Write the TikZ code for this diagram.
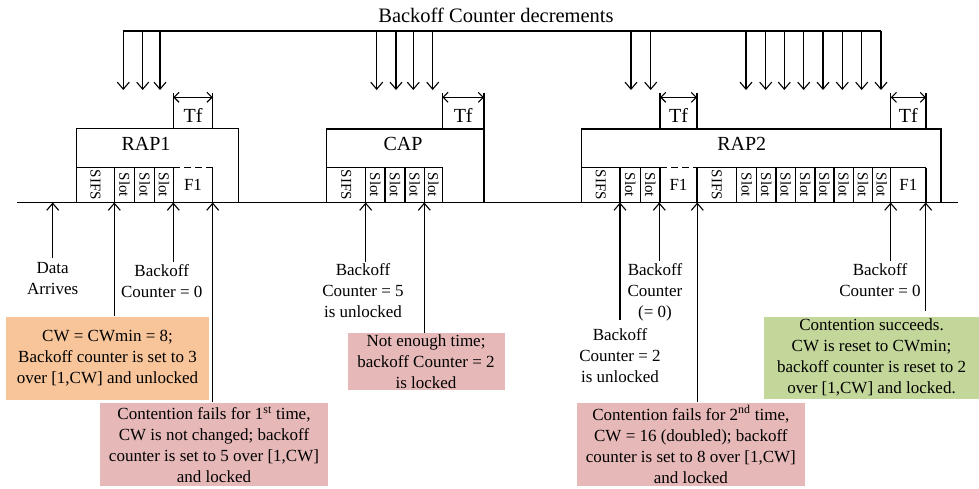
\documentclass[tikz,border=0pt]{standalone}
\usepackage{fontspec}
\setmainfont{Liberation Serif}
\usetikzlibrary{arrows.meta}
\definecolor{orangebox}{HTML}{F8C59B}
\definecolor{pinkbox}{HTML}{E6B9B8}
\definecolor{greenbox}{HTML}{C4D79B}
\begin{document}
\begin{tikzpicture}[x=1pt,y=-1pt,line width=1.1pt,
  arr/.style={-{Straight Barb[length=7pt,width=12pt,line width=1.1pt]}},
  dbl/.style={{Straight Barb[length=5pt,width=10pt,line width=1.1pt]}-{Straight Barb[length=5pt,width=10pt,line width=1.1pt]}},
  lbl/.style={font=\fontsize{17}{21}\selectfont,align=center,inner sep=0pt},
  notebox/.style={font=\fontsize{17}{21}\selectfont,align=center,inner sep=0pt},
  slotlbl/.style={font=\fontsize{15}{15}\selectfont,rotate=-90,inner sep=0pt},
  flbl/.style={font=\fontsize{17}{17}\selectfont,inner sep=0pt},
  tflbl/.style={font=\fontsize{20}{20}\selectfont,inner sep=0pt},
  seglbl/.style={font=\fontsize{20}{20}\selectfont,inner sep=0pt},
  dashedtop/.style={dash pattern=on 7pt off 4pt}]
\useasboundingbox (0,0) rectangle (979,488);

% title and decrement arrows
\node[font=\fontsize{20.5}{21}\selectfont,inner sep=0pt] (title) at (496,15) {Backoff Counter decrements};
\coordinate (topL) at (123.3,31);
\coordinate (topR) at (881,31);
\draw (topL) -- (topR);
\foreach \x in {123.3,142.7,160,376.7,396,413.3,432.7,631,650.7,746,765.7,784.3,803.7,823,842.3,861.7,881}
  \draw[arr] (\x,31) -- (\x,90);

% time line
\coordinate (tlL) at (17.3,202.5);
\coordinate (tlR) at (958,202.5);
\draw (tlL) -- (tlR);

% ---------- RAP1
\draw (76.7,202.5) -- (76.7,128.3) -- (238.3,128.3) -- (238.3,202.5);
\draw (76.7,167.3) -- (173.3,167.3);
\draw[dashedtop] (173.3,167.3) -- (212.7,167.3);
\foreach \x in {114.3,134.7,154.7,173.3,212.7} \draw (\x,167.3) -- (\x,202.5);
\draw (173.3,128.3) -- (173.3,93);
\draw (212.7,128.3) -- (212.7,93);
\draw[dbl] (173.3,97.3) -- (212.7,97.3);
\node[tflbl] (tf1) at (193,115) {Tf};
\node[seglbl] (rap1) at (146,143.5) {RAP1};
\node[slotlbl] (r1s) at (95.5,185) {SIFS};
\node[slotlbl] (r1a) at (124.5,185) {Slot};
\node[slotlbl] (r1b) at (144.7,185) {Slot};
\node[slotlbl] (r1c) at (164,185) {Slot};
\node[flbl] (r1f) at (193,185) {F1};

% ---------- CAP
\draw (326.7,202.5) -- (326.7,129) -- (484,129) -- (484,202.5);
\draw (326.7,167.3) -- (442.3,167.3);
\foreach \x in {365.7,385,405,424.3,442.3} \draw (\x,167.3) -- (\x,202.5);
\draw (442.3,129) -- (442.3,93);
\draw (484,129) -- (484,93);
\draw[dbl] (442.3,97.3) -- (484,97.3);
\node[tflbl] (tf2) at (463.2,115) {Tf};
\node[seglbl] (cap) at (403,143.5) {CAP};
\node[slotlbl] (cs) at (346.2,185) {SIFS};
\node[slotlbl] (ca) at (375.3,185) {Slot};
\node[slotlbl] (cb) at (395,185) {Slot};
\node[slotlbl] (cc) at (414.7,185) {Slot};
\node[slotlbl] (cd) at (433.3,185) {Slot};

% ---------- RAP2
\draw (581.7,202.5) -- (581.7,129) -- (941,129) -- (941,202.5);
\draw (581.7,167.7) -- (660,167.7);
\draw[dashedtop] (660,167.7) -- (697,167.7);
\draw (697,167.7) -- (926,167.7);
\foreach \x in {620,640.3,660,697,736.7,756.7,776,795.7,815,834,853.3,872.7,890.7,926} \draw (\x,167.7) -- (\x,202.5);
\draw (660,129) -- (660,93);
\draw (697,129) -- (697,93);
\draw[dbl] (660,97.3) -- (697,97.3);
\node[tflbl] (tf3) at (678.5,115) {Tf};
\draw (890.7,129) -- (890.7,93);
\draw (926,129) -- (926,93);
\draw[dbl] (890.7,97.3) -- (926,97.3);
\node[tflbl] (tf4) at (908.3,115) {Tf};
\node[seglbl] (rap2) at (741.7,143.5) {RAP2};
\node[slotlbl] (r2s) at (600.8,185) {SIFS};
\node[slotlbl] (r2a) at (630.2,185) {Slot};
\node[slotlbl] (r2b) at (650.2,185) {Slot};
\node[flbl] (r2f) at (678.5,185) {F1};
\node[slotlbl] (r2t) at (716.8,185) {SIFS};
\foreach \x [count=\i] in {746.7,766.3,785.8,805.3,824.5,843.7,863,881.7}
  \node[slotlbl] (r2x\i) at (\x,185) {Slot};
\node[flbl] (r2g) at (908.3,185) {F1};

% ---------- notes
\node[notebox,fill=orangebox,minimum width=203pt,minimum height=83pt] (n1) at (107.5,358) {CW = CWmin = 8;\\Backoff counter is set to 3\\over [1,CW] and unlocked};
\node[notebox,fill=pinkbox,minimum width=228pt,minimum height=83pt] (n2) at (214,444.5) {Contention fails for 1\textsuperscript{st} time,\\CW is not changed; backoff\\counter is set to 5 over [1,CW]\\and locked};
\node[notebox,fill=pinkbox,minimum width=157pt,minimum height=57pt] (n3) at (426,361.7) {Not enough time;\\backoff Counter = 2\\is locked};
\node[notebox,fill=pinkbox,minimum width=228pt,minimum height=83pt] (n4) at (690.8,444.5) {Contention fails for 2\textsuperscript{nd} time,\\CW = 16 (doubled); backoff\\counter is set to 8 over [1,CW]\\and locked};
\node[notebox,fill=greenbox,minimum width=215pt,minimum height=82pt] (n5) at (871.5,357.8) {Contention succeeds.\\CW is reset to CWmin;\\backoff counter is reset to 2\\over [1,CW] and locked.};

% ---------- labels
\node[lbl,anchor=north] (l1) at (52.7,262) {Data\\Arrives};
\node[lbl,anchor=north] (l2) at (161.7,264) {Backoff\\Counter = 0};
\node[lbl,anchor=north] (l3) at (363,263) {Backoff\\Counter = 5\\is unlocked};
\node[lbl,anchor=north] (l4) at (620,328) {Backoff\\Counter = 2\\is unlocked};
\node[lbl,anchor=north] (l5) at (655,263) {Backoff\\Counter\\(= 0)};
\node[lbl,anchor=north] (l6) at (880,263) {Backoff\\Counter = 0};

% ---------- up arrows
\coordinate (p1) at (52.7,202.5);
\coordinate (p2) at (114.3,202.5);
\coordinate (p3) at (173.3,202.5);
\coordinate (p4) at (212.7,202.5);
\coordinate (p5) at (365.7,202.5);
\coordinate (p6) at (424.3,202.5);
\coordinate (p7) at (620,202.5);
\coordinate (p8) at (659.3,202.5);
\coordinate (p9) at (697.3,202.5);
\coordinate (p10) at (890.7,202.5);
\coordinate (p11) at (925.7,202.5);
\draw[arr] (l1.north |- 0,258) -- (p1);
\draw[arr] (n1.north -| p2) -- (p2);
\draw[arr] (p3 |- 0,261.7) -- (p3);
\draw[arr] (n2.north -| p4) -- (p4);
\draw[arr] (p5 |- 0,261.7) -- (p5);
\draw[arr] (n3.north -| p6) -- (p6);
\draw[arr] (p7 |- 0,320) -- (p7);
\draw[arr] (p8 |- 0,261) -- (p8);
\draw[arr] (n4.north -| p9) -- (p9);
\draw[arr] (p10 |- 0,261) -- (p10);
\draw[arr] (p11 |- 0,311) -- (p11);
\end{tikzpicture}
\end{document}
